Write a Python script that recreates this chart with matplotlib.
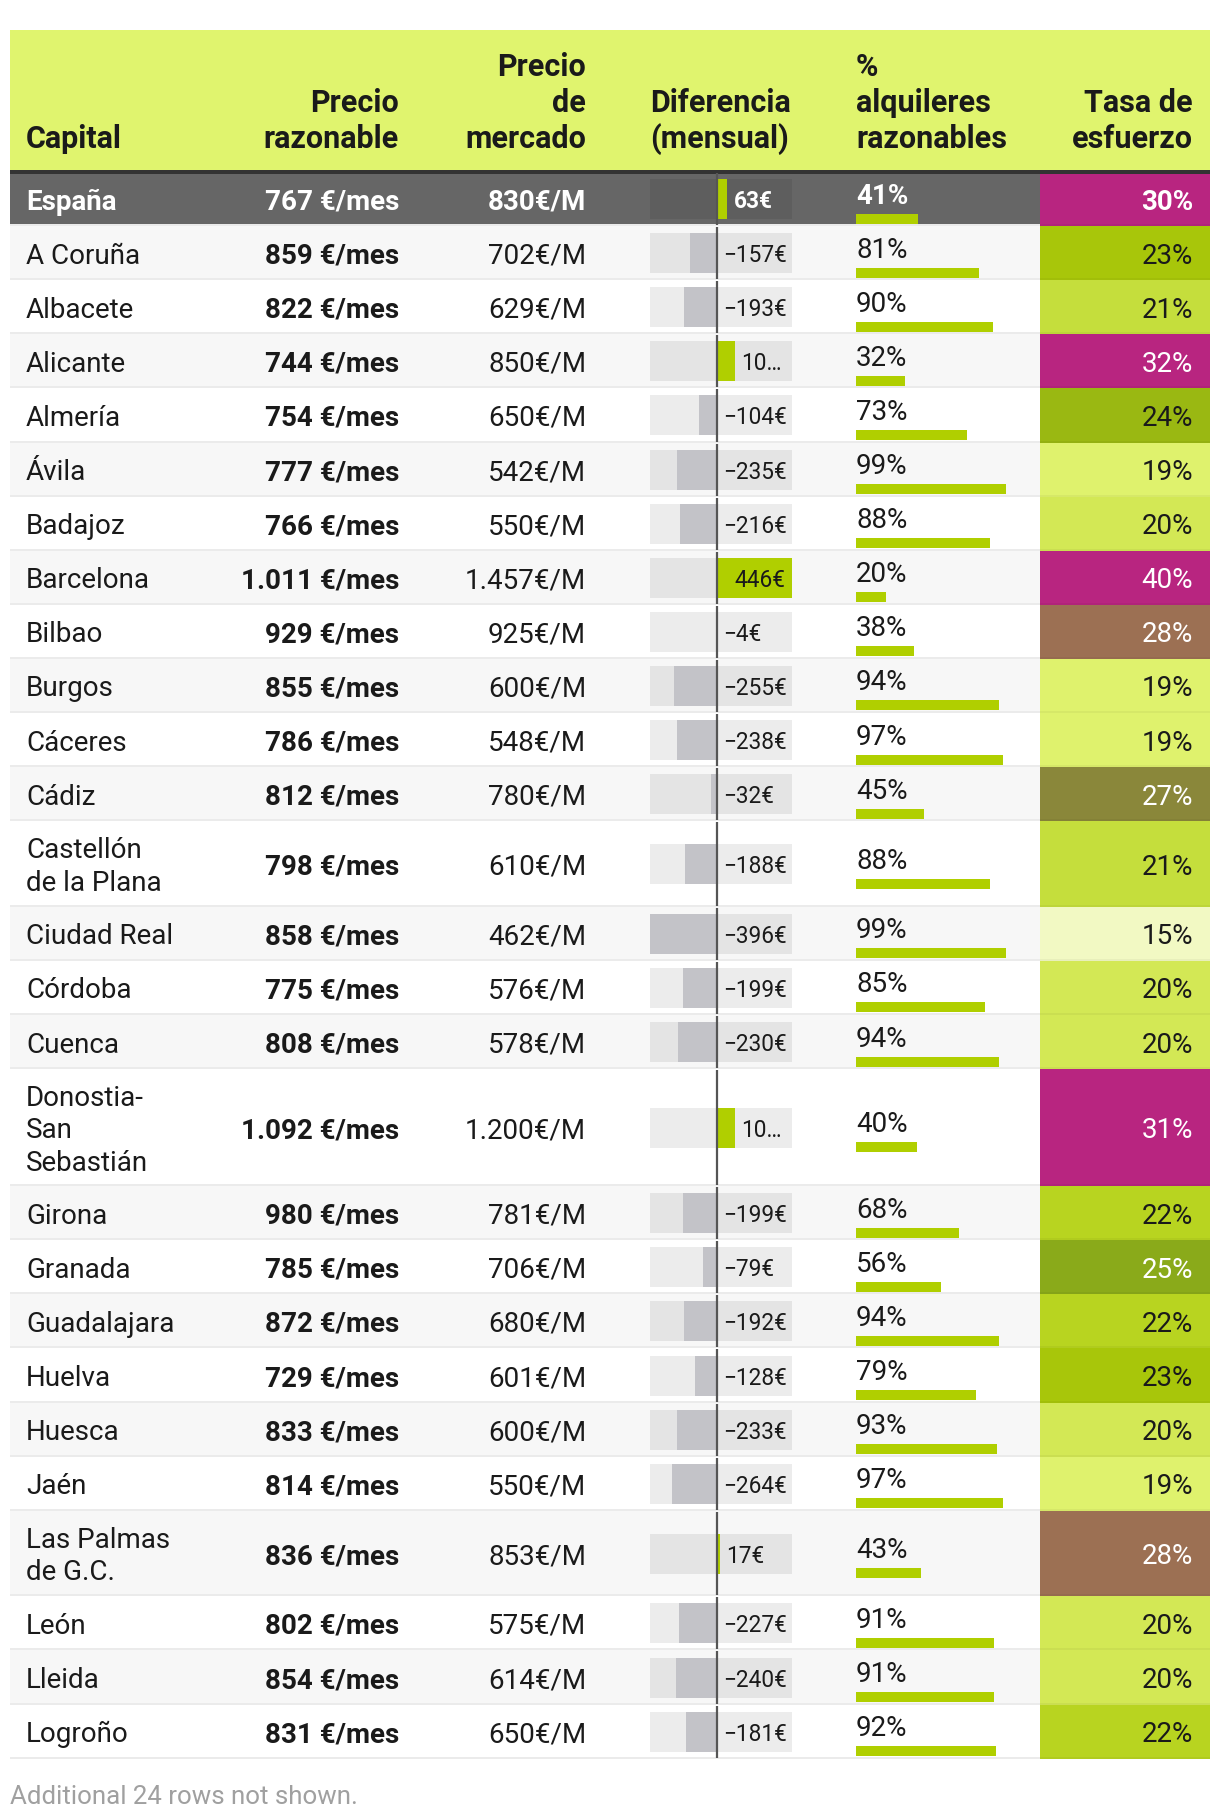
import matplotlib
matplotlib.use("Agg")
import matplotlib.pyplot as plt
from matplotlib.patches import Rectangle

plt.rcParams['font.family'] = ['Roboto', 'DejaVu Sans']

# ---------------- data ----------------
capitals = ["España", "A Coruña", "Albacete", "Alicante", "Almería", "Ávila", "Badajoz",
            "Barcelona", "Bilbao", "Burgos", "Cáceres", "Cádiz", "Castellón\nde la Plana",
            "Ciudad Real", "Córdoba", "Cuenca", "Donostia-\nSan\nSebastián", "Girona",
            "Granada", "Guadalajara", "Huelva", "Huesca", "Jaén", "Las Palmas\nde G.C.",
            "León", "Lleida", "Logroño"]
precio_razonable = [767, 859, 822, 744, 754, 777, 766, 1011, 929, 855, 786, 812, 798, 858,
                    775, 808, 1092, 980, 785, 872, 729, 833, 814, 836, 802, 854, 831]
precio_mercado = [830, 702, 629, 850, 650, 542, 550, 1457, 925, 600, 548, 780, 610, 462,
                  576, 578, 1200, 781, 706, 680, 601, 600, 550, 853, 575, 614, 650]
diferencia = [63, -157, -193, 106, -104, -235, -216, 446, -4, -255, -238, -32, -188, -396,
              -199, -230, 108, -199, -79, -192, -128, -233, -264, 17, -227, -240, -181]
pct_razonables = [41, 81, 90, 32, 73, 99, 88, 20, 38, 94, 97, 45, 88, 99, 85, 94, 40, 68,
                  56, 94, 79, 93, 97, 43, 91, 91, 92]
tasa_esfuerzo = [30, 23, 21, 32, 24, 19, 20, 40, 28, 19, 19, 27, 21, 15, 20, 20, 31, 22,
                 25, 22, 23, 20, 19, 28, 20, 20, 22]
headers = ["Capital", "Precio\nrazonable", "Precio\nde\nmercado", "Diferencia\n(mensual)",
           "%\nalquileres\nrazonables", "Tasa de\nesfuerzo"]
footnote = "Additional 24 rows not shown."

# ---------------- styles ----------------
W, H = 1220, 1818
HEADER_BG = "#e0f46e"
DARK_ROW = "#666666"
ALT_ROW = "#f7f7f7"
SEP = "#ebebeb"
TXT = "#1a1a1a"
NEG_BAR = "#c3c3c8"
POS_BAR = "#b0cf00"
TASA_COLORS = {15: "#f2f9c3", 19: "#dff26d", 20: "#d3e855", 21: "#c5de3c", 22: "#b8d420",
               23: "#a8c60a", 24: "#9ab812", 25: "#8aaa1a", 27: "#8a873a", 28: "#9c7053",
               30: "#b82580", 31: "#b82580", 32: "#b82580", 40: "#b82580"}

BODY = 20
HEAD = 22
SMALL = 16.3

def fmt_thousands(v):
    return f"{v:,}".replace(",", ".")

fig = plt.figure(figsize=(W / 100, H / 100), dpi=100)
ax = fig.add_axes([0, 0, 1, 1])
ax.set_xlim(0, W)
ax.set_ylim(H, 0)
ax.axis('off')

# column layout (pixels)
X_LEFT, X_RIGHT = 10, 1210
X_CAP = 26
X_RAZ = 399
X_MER = 586
X_DIF0, X_DIF1 = 650, 792
X_PCT = 856
PCT_W = 152
X_TASA0 = 1040
X_TASA_TXT = 1193

HEAD_TOP, HEAD_BOT = 30, 172
LINE_H = 36

# header
ax.add_patch(Rectangle((X_LEFT, HEAD_TOP), X_RIGHT - X_LEFT, HEAD_BOT - HEAD_TOP,
                       color=HEADER_BG, lw=0, zorder=0))
hdr_pos = [(X_CAP, 'left'), (X_RAZ, 'right'), (X_MER, 'right'), (X_DIF0, 'left'),
           (X_PCT, 'left'), (X_TASA_TXT, 'right')]
for text, (x, ha) in zip(headers, hdr_pos):
    lines = text.split("\n")
    for i, ln in enumerate(reversed(lines)):
        ax.text(x, 136 - i * LINE_H, ln, ha=ha, va='center_baseline', fontsize=HEAD,
                fontweight='bold', color=TXT, zorder=3)

# rows geometry
nlines = [c.count("\n") + 1 for c in capitals]
heights = [54.1 + 31.5 * (n - 1) for n in nlines]
tops = []
y = HEAD_BOT
for h in heights:
    tops.append(y)
    y += h
bottoms = [t + h for t, h in zip(tops, heights)]
centers = [(t + b) / 2 for t, b in zip(tops, bottoms)]

for i in range(len(capitals)):
    if i == 0:
        bg = DARK_ROW
    else:
        bg = ALT_ROW if i % 2 == 1 else "white"
    ax.add_patch(Rectangle((X_LEFT, tops[i]), X_RIGHT - X_LEFT, heights[i], color=bg,
                           lw=0, zorder=0))
    ax.add_patch(Rectangle((X_TASA0, tops[i]), X_RIGHT - X_TASA0, heights[i],
                           color=TASA_COLORS[tasa_esfuerzo[i]], lw=0, zorder=1))
    ax.add_patch(Rectangle((X_LEFT, bottoms[i] - 2), X_TASA0 - X_LEFT, 2, color=SEP,
                           lw=0, zorder=1.5))
    ax.add_patch(Rectangle((X_TASA0, bottoms[i] - 2), X_RIGHT - X_TASA0, 2, color="black",
                           alpha=0.04, lw=0, zorder=1.5))

# dark rule under header
ax.add_patch(Rectangle((X_LEFT, HEAD_BOT - 2), X_RIGHT - X_LEFT, 4, color="#333333",
                       lw=0, zorder=2))

# text cells
for i in range(len(capitals)):
    first = i == 0
    c = "white" if first else TXT
    wt = 'bold' if first else 'normal'
    lines = capitals[i].split("\n")
    n = len(lines)
    for k, ln in enumerate(lines):
        yy = centers[i] + (k - (n - 1) / 2) * 32.5
        ax.text(X_CAP, yy, ln, ha='left', va='center_baseline', fontsize=BODY,
                fontweight=wt, color=c, zorder=3)
    ax.text(X_RAZ, centers[i], f"{fmt_thousands(precio_razonable[i])} €/mes", ha='right',
            va='center_baseline', fontsize=BODY, fontweight='bold', color=c, zorder=3)
    ax.text(X_MER, centers[i], f"{fmt_thousands(precio_mercado[i])}€/M", ha='right',
            va='center_baseline', fontsize=BODY, fontweight=wt, color=c, zorder=3)
    ax.text(X_PCT, centers[i] - 6, f"{pct_razonables[i]}%", ha='left',
            va='center_baseline', fontsize=BODY, fontweight=wt, color=c, zorder=3)
    tcol = "white" if tasa_esfuerzo[i] >= 25 else TXT
    ax.text(X_TASA_TXT, centers[i], f"{tasa_esfuerzo[i]}%", ha='right',
            va='center_baseline', fontsize=BODY, fontweight=wt, color=tcol, zorder=3)

# footnote
ax.text(X_LEFT, 1794, footnote, ha='left', va='center_baseline', fontsize=18.6,
        color="#a0a0a0")

# ---------------- difference column (own axes & scale) ----------------
dmin, dmax = min(diferencia), max(diferencia)
axd = fig.add_axes([X_DIF0 / W, 0, (X_DIF1 - X_DIF0) / W, 1])
axd.set_xlim(dmin, dmax)
axd.set_ylim(H, 0)
axd.axis('off')
axd.patch.set_alpha(0)
axd.barh(centers, [dmax - dmin] * len(centers), left=dmin, height=40, color="black",
         alpha=0.075, lw=0, zorder=1)
axd.barh(centers, diferencia, height=40,
         color=[POS_BAR if d > 0 else NEG_BAR for d in diferencia], lw=0, zorder=2)
axd.vlines([0] * len(tops), [t + 1 for t in tops], [b - 1 for b in bottoms],
           color="#555555", lw=1.6, zorder=3)

# ---------------- % column (own axes & scale) ----------------
axp = fig.add_axes([X_PCT / W, 0, PCT_W / W, 1])
axp.set_xlim(0, 100)
axp.set_ylim(H, 0)
axp.axis('off')
axp.patch.set_alpha(0)
axp.barh([c + 19.5 for c in centers], pct_razonables, height=10, color=POS_BAR, lw=0)

fig.canvas.draw()
renderer = fig.canvas.get_renderer()
box_right_px = axd.transData.transform((dmax, 0))[0]
for i, d in enumerate(diferencia):
    first = i == 0
    lab = f"{d}€".replace("-", "−")
    if d > 0 and d / dmax > 0.5:
        axd.annotate(lab, (dmax, centers[i]), xytext=(-5, 0), textcoords='offset points',
                     ha='right', va='center_baseline', fontsize=SMALL, color=TXT, zorder=4)
        continue
    x0 = d if d > 0 else 0
    t = axd.annotate(lab, (x0, centers[i]), xytext=(4.5, 0), textcoords='offset points',
                     ha='left', va='center_baseline', fontsize=SMALL,
                     fontweight='bold' if first else 'normal',
                     color="white" if first else TXT, zorder=4)
    ext = t.get_window_extent(renderer)
    if ext.x1 > box_right_px - 1:
        t.set_text(lab[:2] + "…")

fig.savefig("out.png", dpi=100, facecolor="white")
